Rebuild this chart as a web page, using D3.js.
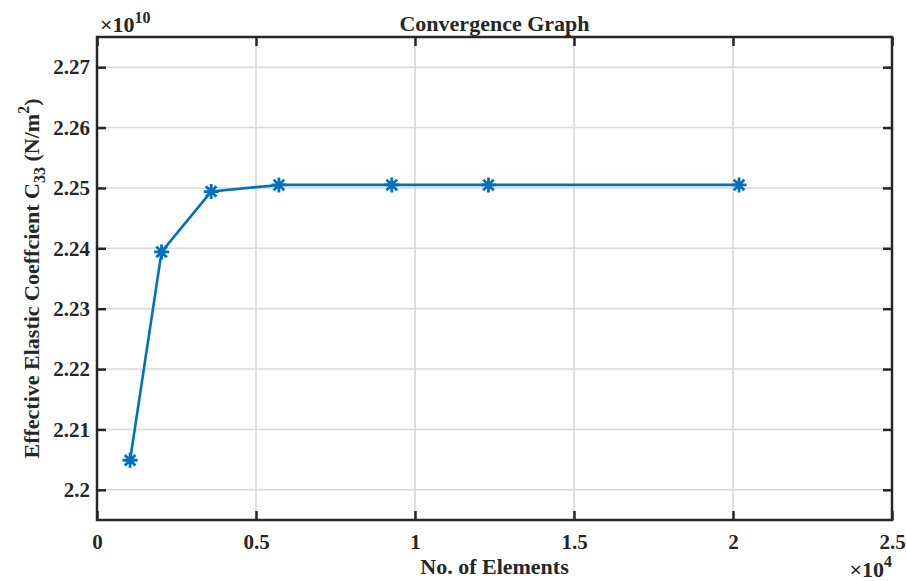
<!DOCTYPE html>
<html>
<head>
<meta charset="utf-8">
<script src="https://cdn.jsdelivr.net/npm/d3@7/dist/d3.min.js"></script>
<style>
  html, body { margin: 0; padding: 0; background: #fff; }
  svg text { font-family: "Liberation Serif", "Times New Roman", serif; font-weight: bold; fill: #262626; }
</style>
</head>
<body>
<svg id="chart" width="906" height="581"></svg>
<script>
// Mesh convergence study: number of elements vs. effective C33 (N/m^2)
const elements = [1040, 2030, 3590, 5720, 9270, 12310, 20190];
const c33 = [2.2049e10, 2.2394e10, 2.2494e10, 2.2505e10, 2.2505e10, 2.2505e10, 2.2505e10];
const xTicks = [0, 5000, 10000, 15000, 20000, 25000];
const yTicks = [2.20e10, 2.21e10, 2.22e10, 2.23e10, 2.24e10, 2.25e10, 2.26e10, 2.27e10];

const svg = d3.select("#chart");
const L = 97, R = 892, T = 37, B = 520;
const blue = "#0072BD";
const axisColor = "#262626";

const x = d3.scaleLinear().domain([0, 25000]).range([L, R]);
const y = d3.scaleLinear().domain([2.195e10, 2.275e10]).range([B, T]);

// grid
const grid = svg.append("g");
grid.selectAll("line.gx").data(xTicks.slice(1, -1)).join("line")
  .attr("x1", d => x(d)).attr("x2", d => x(d)).attr("y1", T).attr("y2", B)
  .attr("stroke", "#d8d8d8").attr("stroke-width", 1.6);
grid.selectAll("line.gy").data(yTicks).join("line")
  .attr("y1", d => y(d)).attr("y2", d => y(d)).attr("x1", L).attr("x2", R)
  .attr("stroke", "#d8d8d8").attr("stroke-width", 1.6);

// axes with inward ticks on all four sides
const tickLen = 9;
const fmtX = d => d3.format("~g")(d / 1e4);
const fmtY = d => d3.format("~g")(+(d / 1e10).toFixed(2));

const bottomAxis = d3.axisBottom(x).tickValues(xTicks).tickSizeInner(-tickLen).tickSizeOuter(0).tickPadding(14).tickFormat(fmtX);
const topAxis = d3.axisTop(x).tickValues(xTicks).tickSizeInner(-tickLen).tickSizeOuter(0).tickFormat("");
const leftAxis = d3.axisLeft(y).tickValues(yTicks).tickSizeInner(-tickLen).tickSizeOuter(0).tickPadding(7).tickFormat(fmtY);
const rightAxis = d3.axisRight(y).tickValues(yTicks).tickSizeInner(-tickLen).tickSizeOuter(0).tickFormat("");

function styleAxis(g) {
  g.select(".domain").remove();
  g.selectAll(".tick line").attr("stroke", axisColor).attr("stroke-width", 2.5);
  g.selectAll(".tick text").attr("font-size", 21).attr("font-family", "Liberation Serif, serif")
    .attr("font-weight", "bold").attr("fill", axisColor);
}
svg.append("g").attr("transform", `translate(0,${B})`).call(bottomAxis).call(styleAxis);
svg.append("g").attr("transform", `translate(0,${T})`).call(topAxis).call(styleAxis);
svg.append("g").attr("transform", `translate(${L},0)`).call(leftAxis).call(styleAxis);
svg.append("g").attr("transform", `translate(${R},0)`).call(rightAxis).call(styleAxis);

// box
svg.append("rect").attr("x", L).attr("y", T).attr("width", R - L).attr("height", B - T)
  .attr("fill", "none").attr("stroke", axisColor).attr("stroke-width", 2.5);

// series line
const line = d3.line().x((d, i) => x(elements[i])).y(d => y(d));
svg.append("path").datum(c33).attr("d", line)
  .attr("fill", "none").attr("stroke", blue).attr("stroke-width", 2.6).attr("stroke-linejoin", "round");

// asterisk markers
const s = 7.5, sd = 5.3;
const star = `M${-s},0L${s},0M0,${-s}L0,${s}M${-sd},${-sd}L${sd},${sd}M${-sd},${sd}L${sd},${-sd}`;
svg.append("g").selectAll("path").data(c33).join("path")
  .attr("transform", (d, i) => `translate(${x(elements[i])},${y(d)})`)
  .attr("d", star).attr("fill", "none").attr("stroke", blue).attr("stroke-width", 2.8);

// title and labels
svg.append("text").attr("x", (L + R) / 2).attr("y", 31).attr("text-anchor", "middle")
  .attr("font-size", 22).text("Convergence Graph");
svg.append("text").attr("x", (L + R) / 2).attr("y", 574).attr("text-anchor", "middle")
  .attr("font-size", 22).text("No. of Elements");

const yl = svg.append("text").attr("transform", `translate(39,${(T + B) / 2}) rotate(-90)`)
  .attr("text-anchor", "middle").attr("font-size", 22);
yl.append("tspan").text("Effective Elastic Coeffcient C");
yl.append("tspan").attr("font-size", 16).attr("dy", 6).text("33");
yl.append("tspan").attr("dy", -6).text(" (N/m");
yl.append("tspan").attr("font-size", 16).attr("dy", -10).text("2");
yl.append("tspan").attr("dy", 10).text(")");

// exponent labels
const ex = svg.append("text").attr("x", 100).attr("y", 32).attr("font-size", 22).attr("font-weight", "normal");
ex.append("tspan").text("\u00d710");
ex.append("tspan").attr("font-size", 16).attr("dy", -9).text("10");

const ex2 = svg.append("text").attr("x", 892).attr("y", 577).attr("text-anchor", "end").attr("font-size", 22).attr("font-weight", "normal");
ex2.append("tspan").text("\u00d710");
ex2.append("tspan").attr("font-size", 16).attr("dy", -10).text("4");
</script>
</body>
</html>
